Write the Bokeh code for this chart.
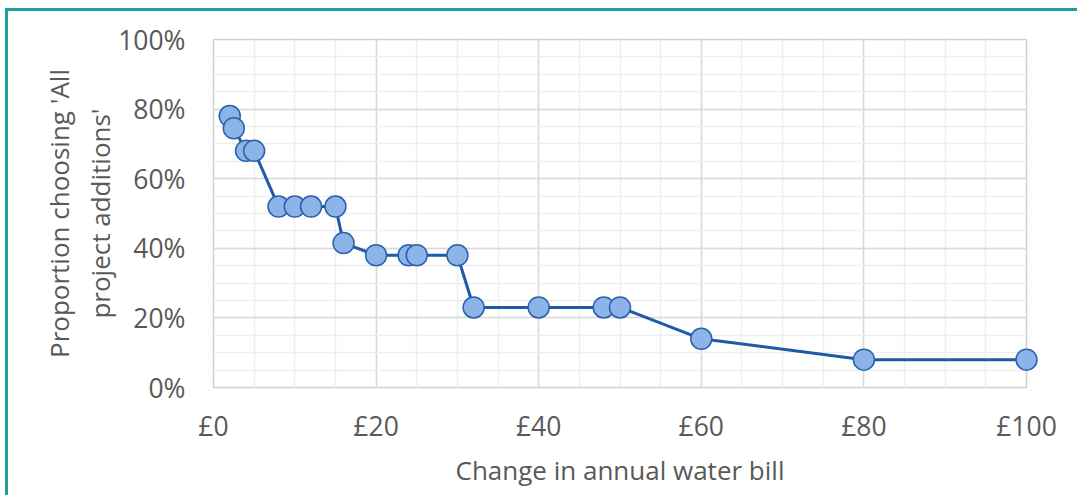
from bokeh.plotting import figure
from bokeh.models import FixedTicker, Range1d
from bokeh.embed import file_html
from bokeh.resources import INLINE

# ---- data ----
bill_change = [2, 2.5, 4, 5, 8, 10, 12, 15, 16, 20, 24, 25, 30, 32, 40, 48, 50, 60, 80, 100]
prop_all = [78, 74.5, 68, 68, 52, 52, 52, 52, 41.5, 38, 38, 38, 38, 23, 23, 23, 23, 14, 8, 8]

x_ticks = [0, 20, 40, 60, 80, 100]
x_tick_labels = ["£0", "£20", "£40", "£60", "£80", "£100"]
y_ticks = [0, 20, 40, 60, 80, 100]
y_tick_labels = ["0%", "20%", "40%", "60%", "80%", "100%"]
minor_steps = list(range(0, 101, 5))

x_title = "Change in annual water bill"
y_title = "Proportion choosing 'All\nproject additions'"

FONT = "Open Sans"
GREY = "#595959"

p = figure(frame_width=813, frame_height=348, output_backend="svg", toolbar_location=None,
           x_range=Range1d(0, 100), y_range=Range1d(0, 100),
           min_border_left=205, min_border_right=51, min_border_top=28, min_border_bottom=108)

p.styles = {"margin-left": "5px", "margin-top": "8px",
            "border-top": "3px solid #1f9e9e", "border-left": "3px solid #1f9e9e"}

p.background_fill_color = "white"
p.border_fill_color = "white"
p.outline_line_color = "#d0d0d0"
p.outline_line_width = 1.5

for ax, ticks, labels in ((p.xaxis[0], x_ticks, x_tick_labels), (p.yaxis[0], y_ticks, y_tick_labels)):
    ax.ticker = FixedTicker(ticks=ticks, minor_ticks=minor_steps)
    ax.major_label_overrides = {t: l for t, l in zip(ticks, labels)}
    ax.axis_line_color = None
    ax.major_tick_line_color = None
    ax.minor_tick_line_color = None
    ax.major_label_text_font = FONT
    ax.major_label_text_font_size = "26.5px"
    ax.major_label_text_color = GREY
    ax.axis_label_text_font = FONT
    ax.axis_label_text_font_size = "26px"
    ax.axis_label_text_font_style = "normal"
    ax.axis_label_text_color = GREY

p.xaxis.axis_label = x_title
p.yaxis.axis_label = y_title
p.xaxis.major_label_standoff = 14
p.yaxis.major_label_standoff = 22
p.xaxis.axis_label_standoff = 5
p.yaxis.axis_label_standoff = -3
p.yaxis.axis_label_text_line_height = 1.15

for g in (p.xgrid[0], p.ygrid[0]):
    g.grid_line_color = "#d9d9d9"
    g.grid_line_width = 1.5
    g.minor_grid_line_color = "#eeeeee"
    g.minor_grid_line_width = 1.5

p.line(bill_change, prop_all, line_color="#1f5aa6", line_width=3, level="overlay")
p.scatter(bill_change, prop_all, size=21, fill_color="#8cb4e8", line_color="#2c60ab",
          line_width=1.5, level="overlay")

open("out.html", "w").write(file_html(p, INLINE))
